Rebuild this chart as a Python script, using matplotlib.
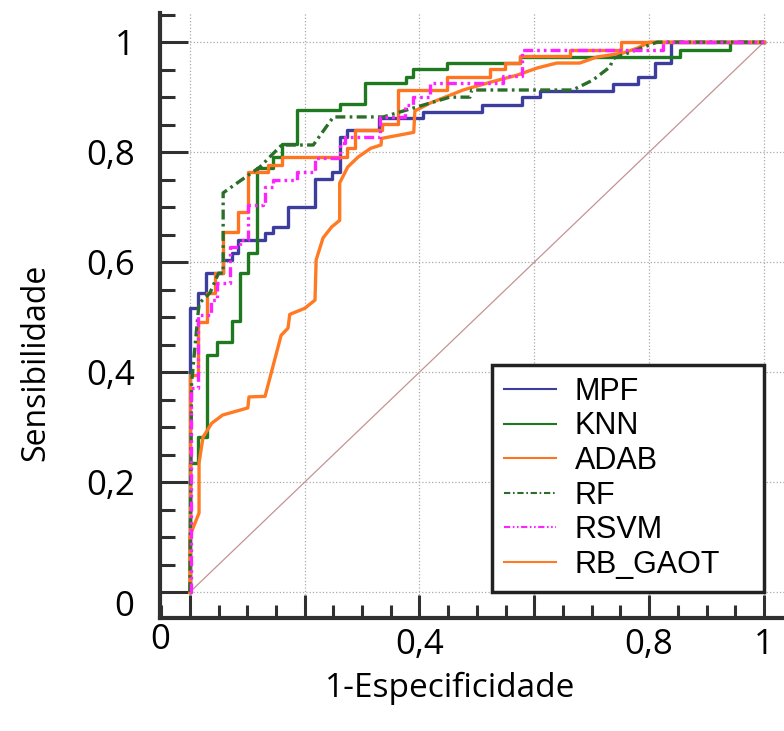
import matplotlib
matplotlib.use('Agg')
import matplotlib.pyplot as plt
from matplotlib.ticker import MultipleLocator

# ROC points (1-especificidade, sensibilidade)
mpf_x = [0, 0, 0.014, 0.028, 0.057, 0.073, 0.084, 0.131, 0.145, 0.171, 0.218, 0.247, 0.261,
         0.274, 0.330, 0.406, 0.509, 0.578, 0.610, 0.737, 0.780, 0.810, 0.839, 1.0]
mpf_y = [0, 0.516, 0.544, 0.580, 0.604, 0.616, 0.640, 0.653, 0.664, 0.700, 0.751, 0.764, 0.827,
         0.840, 0.862, 0.873, 0.886, 0.900, 0.912, 0.924, 0.936, 0.963, 1.0, 1.0]

knn_x = [0, 0, 0.014, 0.030, 0.047, 0.073, 0.087, 0.101, 0.117, 0.145, 0.160, 0.186, 0.261,
         0.305, 0.376, 0.389, 0.448, 0.575, 0.854, 0.941, 1.0]
knn_y = [0, 0.235, 0.282, 0.431, 0.455, 0.493, 0.580, 0.616, 0.771, 0.791, 0.815, 0.876, 0.887,
         0.925, 0.936, 0.951, 0.963, 0.973, 0.985, 1.0, 1.0]

adab_x = [0, 0, 0.014, 0.030, 0.044, 0.058, 0.084, 0.101, 0.136, 0.160, 0.273, 0.287, 0.334,
          0.362, 0.448, 0.523, 0.549, 0.575, 0.662, 0.751, 1.0]
adab_y = [0, 0.395, 0.491, 0.544, 0.580, 0.655, 0.691, 0.764, 0.776, 0.792, 0.807, 0.840, 0.852,
          0.913, 0.936, 0.951, 0.963, 0.974, 0.985, 1.0, 1.0]

rf_x = [0, 0.003, 0.016, 0.035, 0.050, 0.058, 0.058, 0.122, 0.160, 0.215, 0.250, 0.337, 0.453,
        0.488, 0.491, 0.667, 0.702, 0.732, 0.737, 0.814, 1.0]
rf_y = [0, 0.380, 0.525, 0.544, 0.580, 0.580, 0.726, 0.773, 0.813, 0.813, 0.864, 0.864, 0.900,
        0.900, 0.913, 0.913, 0.931, 0.955, 0.970, 1.0, 1.0]

rsvm_x = [0, 0.002, 0.014, 0.037, 0.047, 0.070, 0.087, 0.101, 0.127, 0.131, 0.145, 0.186, 0.218,
          0.261, 0.270, 0.331, 0.375, 0.389, 0.418, 0.545, 0.578, 0.824, 1.0]
rsvm_y = [0, 0.371, 0.504, 0.531, 0.562, 0.627, 0.640, 0.704, 0.707, 0.736, 0.749, 0.764, 0.789,
          0.816, 0.827, 0.864, 0.885, 0.900, 0.925, 0.938, 0.985, 1.0, 1.0]

gaot_x = [0, 0, 0.016, 0.016, 0.023, 0.038, 0.057, 0.101, 0.103, 0.131, 0.159, 0.171, 0.174,
          0.200, 0.218, 0.220, 0.232, 0.247, 0.261, 0.261, 0.275, 0.293, 0.315, 0.333, 0.334,
          0.390, 0.392, 0.418, 0.476, 0.523, 0.570, 0.605, 0.639, 0.679, 0.709, 0.754, 0.779,
          0.801, 1.0]
gaot_y = [0, 0.102, 0.144, 0.235, 0.282, 0.307, 0.322, 0.335, 0.355, 0.356, 0.467, 0.480, 0.505,
          0.516, 0.531, 0.604, 0.644, 0.664, 0.676, 0.744, 0.773, 0.791, 0.807, 0.813, 0.825,
          0.836, 0.875, 0.889, 0.913, 0.927, 0.940, 0.953, 0.962, 0.962, 0.973, 0.980, 0.989,
          1.0, 1.0]

x_ticklabels = ['', '', '0,4', '', '0,8', '1']
y_ticklabels = ['', '0,2', '0,4', '0,6', '0,8', '1']

W, H = 784, 731
fig = plt.figure(figsize=(W / 100, H / 100), dpi=100)
ax = fig.add_axes([160 / W, (H - 618) / H, 624 / W, 605 / H])
ax.set_xlim(-0.052, 1.035)
ax.set_ylim(-0.047, 1.053)

ax.grid(True, which='major', color='#aaaaaa', linestyle=':', linewidth=0.9, zorder=0)
ax.plot([0, 1], [0, 1], color='#c49393', linewidth=0.9, zorder=1)

lw = 2.4
ax.plot(mpf_x, mpf_y, drawstyle='steps-post', color='#3d3d9e', lw=lw, label='MPF', zorder=3)
ax.plot(knn_x, knn_y, drawstyle='steps-post', color='#1f7a1f', lw=lw, label='KNN', zorder=3)
ax.plot(adab_x, adab_y, drawstyle='steps-post', color='#ff7420', lw=lw, label='ADAB', zorder=3)
ax.plot(rf_x, rf_y, color='#2a6e2a', lw=lw, ls=(0, (3, 1.3, 0.8, 1.3)), label='RF', zorder=4)
ax.plot(rsvm_x, rsvm_y, drawstyle='steps-post', color='#ff22ff', lw=lw,
        ls=(0, (3, 1.2, 0.8, 1.2, 0.8, 1.2)), label='RSVM', zorder=4)
ax.plot(gaot_x, gaot_y, color='#ff7a22', lw=lw, label='RB_GAOT', zorder=3)

for s in ['top', 'right']:
    ax.spines[s].set_visible(False)
for s in ['left', 'bottom']:
    ax.spines[s].set_linewidth(3)
    ax.spines[s].set_color('#303030')

ax.set_xticks([0, 0.2, 0.4, 0.6, 0.8, 1.0])
ax.set_xticklabels(x_ticklabels)
ax.set_yticks([0, 0.2, 0.4, 0.6, 0.8, 1.0])
ax.set_yticklabels(y_ticklabels)
ax.xaxis.set_minor_locator(MultipleLocator(0.05))
ax.yaxis.set_minor_locator(MultipleLocator(0.05))
ax.tick_params(axis='x', which='major', direction='in', length=16.5, width=2.2,
               color='#303030', pad=7, labelsize=25)
ax.tick_params(axis='x', which='minor', direction='in', length=9.5, width=2.2, color='#303030')
ax.tick_params(axis='y', which='major', direction='in', length=20, width=2.2,
               color='#303030', pad=18, labelsize=25)
ax.tick_params(axis='y', which='minor', direction='in', length=11, width=2.2, color='#303030')
for t in ax.get_xticklabels() + ax.get_yticklabels():
    t.set_fontfamily('Open Sans')

fig.text(160 / W, 1 - 640 / H, '0', fontsize=25, family='Open Sans', ha='center', va='center')
fig.text(124 / W, 1 - 607 / H, '0', fontsize=25, family='Open Sans', ha='center', va='center')

fig.text(36 / W, 1 - 362 / H, 'Sensibilidade', rotation=90, fontsize=23,
         family='Open Sans', ha='center', va='center')
fig.text(450 / W, 1 - 688 / H, '1-Especificidade', fontsize=24,
         family='Open Sans', ha='center', va='center')

leg = ax.legend(loc='lower left', bbox_to_anchor=(0.532, 0.043, 0.436, 0.378), mode='expand',
                fancybox=False, framealpha=1, edgecolor='#222222',
                prop={'family': 'Liberation Sans', 'size': 22},
                handlelength=1.7, handletextpad=0.6, labelspacing=0.15, borderpad=0.4,
                borderaxespad=0)
leg.get_frame().set_linewidth(2.5)
for h in leg.get_lines():
    h.set_linewidth(1.5)

fig.savefig('out.png', dpi=100)
